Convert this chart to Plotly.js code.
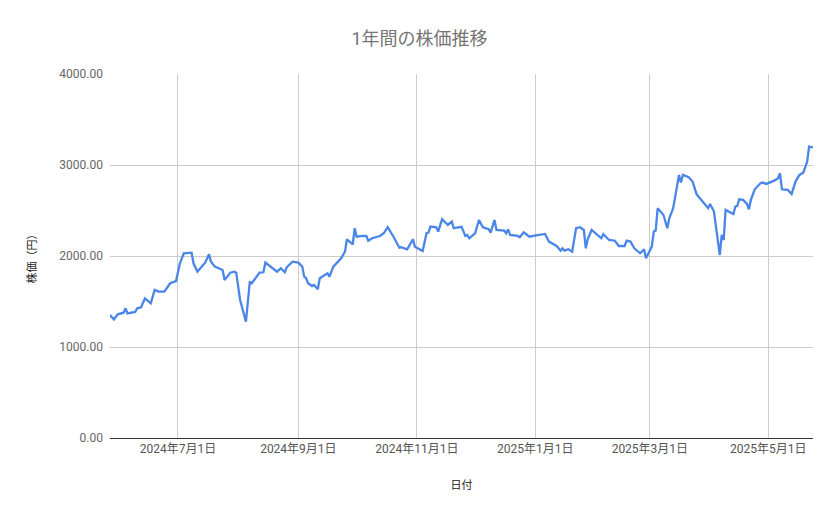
<!DOCTYPE html>
<html>
<head>
<meta charset="utf-8">
<script src="https://cdn.plot.ly/plotly-3.0.1.min.js"></script>
<style>
  body { margin: 0; background: #fff; }
  #chart { width: 839px; height: 519px; }
</style>
</head>
<body>
<div id="chart"></div>
<script>
// 日付と株価（円）
var dates = [
  "2024-05-27","2024-05-29","2024-05-31","2024-06-03","2024-06-04","2024-06-05","2024-06-09","2024-06-10",
  "2024-06-12","2024-06-14","2024-06-17","2024-06-19","2024-06-21","2024-06-24","2024-06-27","2024-06-30",
  "2024-07-02","2024-07-04","2024-07-08","2024-07-09","2024-07-11","2024-07-15","2024-07-17","2024-07-18",
  "2024-07-20","2024-07-23","2024-07-24","2024-07-25","2024-07-28","2024-07-30","2024-07-31","2024-08-02",
  "2024-08-05","2024-08-07","2024-08-08","2024-08-12","2024-08-14","2024-08-15","2024-08-21","2024-08-23",
  "2024-08-25","2024-08-26","2024-08-29","2024-09-01","2024-09-03","2024-09-04","2024-09-05","2024-09-06",
  "2024-09-08","2024-09-09","2024-09-11","2024-09-12","2024-09-16","2024-09-17","2024-09-19","2024-09-23",
  "2024-09-25","2024-09-26","2024-09-29","2024-09-30","2024-10-01","2024-10-04","2024-10-06","2024-10-07",
  "2024-10-09","2024-10-13","2024-10-15","2024-10-17","2024-10-20","2024-10-23","2024-10-24","2024-10-27",
  "2024-10-29","2024-10-30","2024-10-31","2024-11-04","2024-11-06","2024-11-07","2024-11-08","2024-11-10",
  "2024-11-11","2024-11-12","2024-11-14","2024-11-17","2024-11-19","2024-11-20","2024-11-24","2024-11-26",
  "2024-11-27","2024-11-28","2024-12-01","2024-12-03","2024-12-05","2024-12-08","2024-12-09","2024-12-11",
  "2024-12-12","2024-12-16","2024-12-17","2024-12-18","2024-12-19","2024-12-23","2024-12-24","2024-12-26",
  "2024-12-29","2024-12-31","2025-01-06","2025-01-08","2025-01-12","2025-01-14","2025-01-15","2025-01-16",
  "2025-01-18","2025-01-20","2025-01-22","2025-01-24","2025-01-26","2025-01-27","2025-01-28","2025-01-30",
  "2025-02-04","2025-02-05","2025-02-08","2025-02-11","2025-02-13","2025-02-16","2025-02-17","2025-02-19",
  "2025-02-21","2025-02-24","2025-02-26","2025-02-27","2025-03-02","2025-03-03","2025-03-04","2025-03-05",
  "2025-03-08","2025-03-10","2025-03-11","2025-03-13","2025-03-16","2025-03-17","2025-03-18","2025-03-21",
  "2025-03-23","2025-03-25","2025-03-26","2025-03-31","2025-04-01","2025-04-03","2025-04-06","2025-04-07",
  "2025-04-08","2025-04-09","2025-04-12","2025-04-13","2025-04-14","2025-04-15","2025-04-16","2025-04-18",
  "2025-04-20","2025-04-21","2025-04-22","2025-04-24","2025-04-27","2025-04-28","2025-04-30","2025-05-01",
  "2025-05-04","2025-05-06","2025-05-07","2025-05-08","2025-05-11","2025-05-13","2025-05-15","2025-05-17",
  "2025-05-19","2025-05-21","2025-05-22","2025-05-24"
];
var prices = [
  1352,1304,1359,1377,1425,1370,1385,1425,
  1436,1535,1480,1627,1608,1608,1700,1725,
  1920,2030,2037,1920,1828,1927,2019,1938,
  1883,1854,1846,1736,1817,1828,1817,1517,
  1278,1718,1700,1817,1821,1927,1828,1865,
  1822,1876,1938,1927,1883,1773,1755,1700,
  1670,1682,1634,1755,1810,1773,1883,1975,
  2048,2184,2129,2305,2212,2220,2220,2168,
  2195,2220,2250,2316,2212,2091,2096,2074,
  2140,2184,2103,2055,2250,2257,2323,2323,
  2316,2268,2404,2341,2378,2305,2320,2220,
  2231,2195,2250,2396,2316,2294,2257,2396,
  2286,2279,2250,2294,2231,2220,2206,2261,
  2212,2220,2242,2158,2110,2059,2085,2059,
  2074,2048,2305,2316,2286,2085,2184,2286,
  2195,2239,2176,2168,2110,2110,2168,2158,
  2085,2030,2074,1975,2103,2268,2279,2525,
  2451,2305,2415,2525,2891,2807,2891,2865,
  2818,2682,2653,2525,2572,2488,2011,2231,
  2176,2506,2470,2462,2543,2550,2623,2616,
  2572,2514,2616,2733,2799,2807,2792,2799,
  2828,2854,2909,2733,2726,2682,2818,2891,
  2916,3037,3202,3194
];

var chartTitle = "1年間の株価推移";
var xTitle = "日付";
var yTitle = "株価（円）";

var font = "Roboto, 'Noto Sans CJK JP', sans-serif";

var data = [
  {
    type: "scatter",
    mode: "lines",
    x: dates,
    y: prices,
    line: { color: "#4a86e8", width: 2.3 },
    hoverinfo: "x+y"
  }
];

var layout = {
  width: 839,
  height: 519,
  paper_bgcolor: "#fff",
  plot_bgcolor: "#fff",
  showlegend: false,
  font: { family: font, color: "#666", size: 12 },
  margin: { l: 110, r: 26, t: 74, b: 81 },
  title: {
    text: chartTitle,
    x: 0.5,
    xanchor: "center",
    y: 0.925,
    yanchor: "middle",
    font: { family: font, size: 18, color: "#757575" }
  },
  xaxis: {
    type: "date",
    tick0: "2024-07-01",
    dtick: "M2",
    tickformat: "%Y年%-m月%-d日",
    showgrid: true,
    gridcolor: "#cccccc",
    gridwidth: 1,
    showline: true,
    linecolor: "#333",
    linewidth: 1,
    ticks: "",
    zeroline: false,
    tickfont: { size: 12, color: "#555" },
    title: {
      text: xTitle,
      standoff: 25,
      font: { size: 11, color: "#222" }
    }
  },
  yaxis: {
    range: [0, 4000],
    tickvals: [0, 1000, 2000, 3000, 4000],
    tickformat: ".2f",
    showgrid: true,
    gridcolor: "#cccccc",
    gridwidth: 1,
    zeroline: false,
    showline: false,
    ticks: "",
    tickfont: { size: 12, color: "#666" },
    ticklabelstandoff: 6,
    title: {
      text: yTitle,
      standoff: 20,
      font: { size: 11, color: "#222" }
    }
  }
};

Plotly.newPlot("chart", data, layout, { displayModeBar: false, staticPlot: true });
</script>
</body>
</html>
